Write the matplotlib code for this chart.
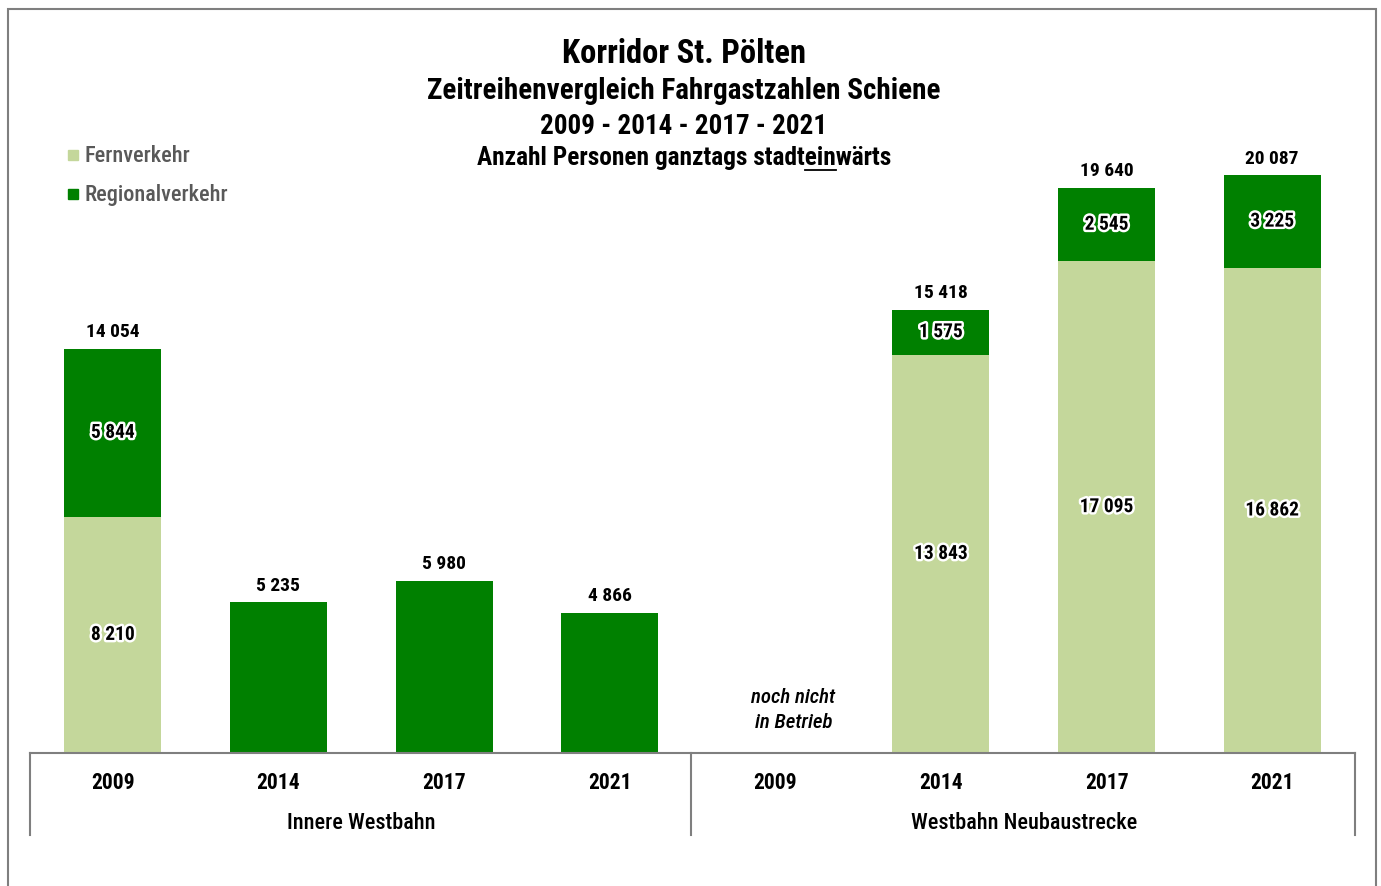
import matplotlib
matplotlib.use("Agg")
import matplotlib.pyplot as plt
import matplotlib.patheffects as pe
from matplotlib import font_manager as fm
from matplotlib.patches import Rectangle
from matplotlib.lines import Line2D
import numpy as np

# narrow sans if available
def pick_font(names):
    for n in names:
        try:
            fm.findfont(fm.FontProperties(family=n), fallback_to_default=False)
            return n
        except Exception:
            pass
    return "DejaVu Sans"

FONT = pick_font(["Liberation Sans Narrow", "Roboto Condensed", "Liberation Sans"])
plt.rcParams["font.family"] = [FONT, "DejaVu Sans"]

# data
years = ["2009", "2014", "2017", "2021", "2009", "2014", "2017", "2021"]
groups = ["Innere Westbahn", "Westbahn Neubaustrecke"]
fernverkehr = [8210, 0, 0, 0, 0, 13843, 17095, 16862]
regionalverkehr = [5844, 5235, 5980, 4866, 0, 1575, 2545, 3225]
in_betrieb = [True, True, True, True, False, True, True, True]

c_fern = "#C4D79B"
c_reg = "#008000"

W, H = 1381, 887
fig = plt.figure(figsize=(W / 100, H / 100), dpi=100)

def fx(px):
    return px / W

def fy(py):
    return 1 - py / H

# outer frame
fig.add_artist(Rectangle((fx(8), -0.05), fx(1376) - fx(8), fy(10) + 0.05,
                         transform=fig.transFigure, fill=False,
                         edgecolor="#7f7f7f", linewidth=1.5))

ymax = 21000
ax = fig.add_axes([fx(30), fy(754), fx(1355) - fx(30), fy(150) - fy(754)])
x = np.arange(len(years))
fern = np.array(fernverkehr)
reg = np.array(regionalverkehr)
ax.bar(x, fern, width=0.585, color=c_fern, linewidth=0)
ax.bar(x, reg, bottom=fern, width=0.585, color=c_reg, linewidth=0)
ax.set_xlim(-0.5, len(years) - 0.5)
ax.set_ylim(0, ymax)
ax.axis("off")

VFS = 14
glow = [pe.withStroke(linewidth=3.5, foreground="white")]
for i in range(len(years)):
    total = fern[i] + reg[i]
    if not in_betrieb[i]:
        ax.text(x[i] + 0.11, 1530, "noch nicht\nin Betrieb", ha="center", va="center",
                fontsize=15, style="italic", fontweight="medium", linespacing=1.35)
        continue
    ax.text(x[i], total + 300, f"{total:,}".replace(",", " "), ha="center",
            va="bottom", fontsize=VFS, fontweight="bold")
    if fern[i] > 0:
        ax.text(x[i], fern[i] / 2, f"{fern[i]:,}".replace(",", " "), ha="center",
                va="center", fontsize=VFS, fontweight="bold", path_effects=glow)
        ax.text(x[i], fern[i] + reg[i] / 2, f"{reg[i]:,}".replace(",", " "),
                ha="center", va="center", fontsize=VFS, fontweight="bold",
                path_effects=glow)

# category table below the bars
line_kw = dict(transform=fig.transFigure, color="#7f7f7f", linewidth=1.5)
fig.add_artist(Line2D([fx(30), fx(1355)], [fy(754), fy(754)], **line_kw))
for px in (30, 691, 1355):
    fig.add_artist(Line2D([fx(px), fx(px)], [fy(754), fy(836)], **line_kw))
xt = ax.get_xaxis_transform()
ax_h = 754 - 150
for i, yr in enumerate(years):
    ax.text(x[i], (754 - 783) / ax_h, yr, transform=xt, ha="center", va="center",
            fontsize=15.5, fontweight="bold", clip_on=False)
for j, g in enumerate(groups):
    ax.text(1.5 + 4 * j, (754 - 823) / ax_h, g, transform=xt, ha="center",
            va="center", fontsize=16, fontweight="medium", clip_on=False)

# legend
for k, (lab, col) in enumerate([("Fernverkehr", c_fern), ("Regionalverkehr", c_reg)]):
    py = 156 + 39 * k
    fig.add_artist(Rectangle((fx(68), fy(py + 5)), fx(10), 10 / H,
                             transform=fig.transFigure, color=col))
    fig.text(fx(84), fy(py), lab, ha="left", va="center", fontsize=16,
             fontweight="medium", color="#595959")

# titles
cx = fx(684)
fig.text(cx, fy(54), "Korridor St. Pölten", ha="center", va="center",
         fontsize=23.5, fontweight="bold")
fig.text(cx, fy(91), "Zeitreihenvergleich Fahrgastzahlen Schiene", ha="center",
         va="center", fontsize=21, fontweight="bold")
fig.text(cx, fy(126), "2009 - 2014 - 2017 - 2021", ha="center", va="center",
         fontsize=19.5, fontweight="bold")
sub = "Anzahl Personen ganztags stadteinwärts"
SFS = 18.3
t = fig.text(cx, fy(158), sub, ha="center", va="center", fontsize=SFS,
             fontweight="bold")

# underline "ein"
r = fig.canvas.get_renderer()
full = t.get_window_extent(r)
def width_of(s):
    tmp = fig.text(0, 0, s, fontsize=SFS, fontweight="bold")
    w = tmp.get_window_extent(r).width
    tmp.remove()
    return w
x0 = full.x0 + width_of("Anzahl Personen ganztags stadt")
x1 = full.x0 + width_of("Anzahl Personen ganztags stadtein")
uy = full.y0 - 1
fig.add_artist(Line2D([x0 / W, x1 / W], [uy / H, uy / H], transform=fig.transFigure,
                      color="black", linewidth=1.3))

fig.savefig("out.png", dpi=100)
